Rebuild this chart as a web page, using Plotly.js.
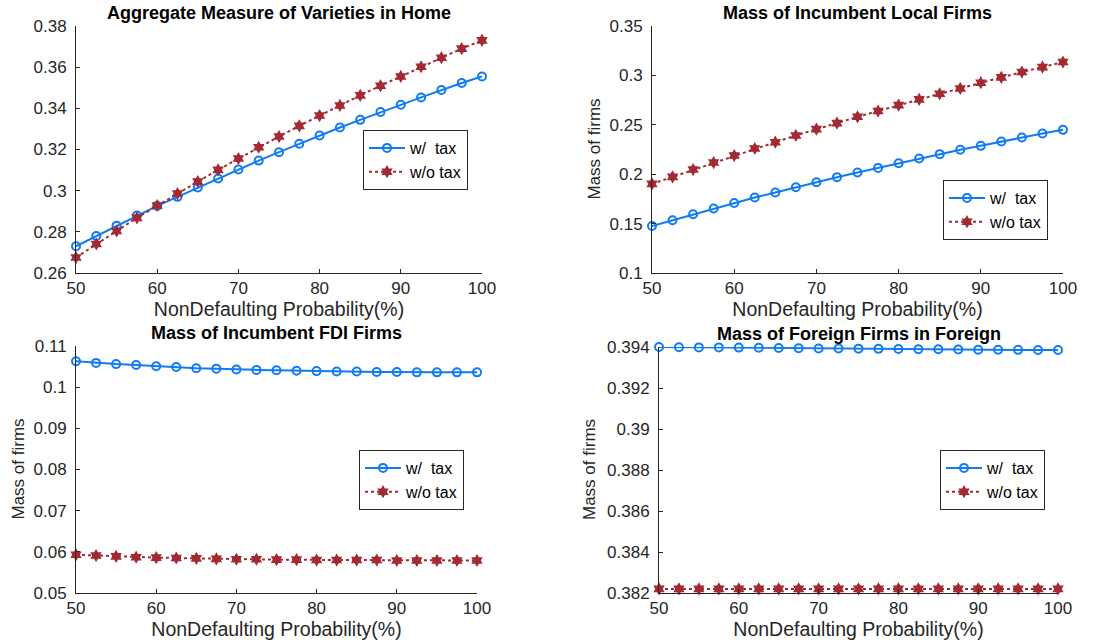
<!DOCTYPE html>
<html>
<head>
<meta charset="utf-8">
<script src="https://cdn.plot.ly/plotly-3.0.1.min.js"></script>
<style>html,body{margin:0;padding:0;background:#fff}#chart{width:1109px;height:643px}</style>
</head>
<body>
<div id="chart"></div>
<script>
// x values: NonDefaulting probability (%)
const prob = [50,52.5,55,57.5,60,62.5,65,67.5,70,72.5,75,77.5,80,82.5,85,87.5,90,92.5,95,97.5,100];

// Panel 1: Aggregate Measure of Varieties in Home
const varietiesTax   = [0.2730,0.2780,0.2830,0.2879,0.2926,0.2970,0.3015,0.3059,0.3103,0.3146,0.3187,0.3228,0.3268,0.3307,0.3344,0.3382,0.3417,0.3453,0.3489,0.3523,0.3555];
const varietiesNoTax = [0.2675,0.2741,0.2804,0.2868,0.2928,0.2986,0.3044,0.3101,0.3156,0.3211,0.3263,0.3315,0.3365,0.3414,0.3463,0.3510,0.3555,0.3602,0.3646,0.3690,0.3730];

// Panel 2: Mass of Incumbent Local Firms
const localTax   = [0.1476,0.1534,0.1595,0.1652,0.1709,0.1764,0.1814,0.1868,0.1919,0.1970,0.2017,0.2064,0.2111,0.2159,0.2203,0.2247,0.2287,0.2331,0.2372,0.2412,0.2449];
const localNoTax = [0.1902,0.1973,0.2047,0.2118,0.2189,0.2260,0.2324,0.2392,0.2456,0.2517,0.2581,0.2639,0.2699,0.2757,0.2814,0.2868,0.2926,0.2980,0.3034,0.3084,0.3135];

// Panel 3: Mass of Incumbent FDI Firms
const fdiTax   = [0.1063,0.1059,0.1056,0.1054,0.1051,0.1049,0.1046,0.1045,0.1043,0.1042,0.1041,0.1040,0.1039,0.1038,0.1038,0.1037,0.1037,0.1036,0.1036,0.1036,0.1036];
const fdiNoTax = [0.0593,0.0591,0.0589,0.0587,0.0586,0.0585,0.0584,0.0583,0.0582,0.0582,0.0581,0.0581,0.0580,0.0580,0.0580,0.0580,0.0579,0.0579,0.0579,0.0579,0.0579];

// Panel 4: Mass of Foreign Firms in Foreign
const foreignTax   = [0.39400,0.39399,0.39398,0.39398,0.39397,0.39396,0.39395,0.39394,0.39393,0.39393,0.39392,0.39391,0.39390,0.39389,0.39389,0.39388,0.39387,0.39387,0.39386,0.39385,0.39385];
const foreignNoTax = [0.38220,0.38220,0.38220,0.38220,0.38220,0.38220,0.38220,0.38220,0.38220,0.38220,0.38220,0.38220,0.38220,0.38220,0.38220,0.38220,0.38220,0.38220,0.38220,0.38220,0.38220];

const titles = ["Aggregate Measure of Varieties in Home","Mass of Incumbent Local Firms","Mass of Incumbent FDI Firms","Mass of Foreign Firms in Foreign"];
const xTitle = "NonDefaulting Probability(%)";
const yTitle = "Mass of firms";
const nameTax = "w/\u00A0 tax";
const nameNoTax = "w/o tax";

const BLUE = "#0F7BF5";
const RED = "#A32A33";
const AX = "#262626";
const FONT = "Liberation Sans, Arial, sans-serif";

const W = 1109, H = 643;
const px = (a,b) => [a/W, b/W];
const py = (top,bottom) => [1-bottom/H, 1-top/H];

const panels = [
  {tax: varietiesTax, notax: varietiesNoTax, xd: px(76,482), yd: py(26,273), yr:[0.26,0.38], dt:0.02, leg:[363,130], ytitle:null},
  {tax: localTax, notax: localNoTax, xd: px(652,1063), yd: py(26,273), yr:[0.1,0.35], dt:0.05, leg:[943,180], ytitle:594},
  {tax: fdiTax, notax: fdiNoTax, xd: px(76,477), yd: py(346,593), yr:[0.05,0.11], dt:0.01, leg:[359,450], ytitle:18},
  {tax: foreignTax, notax: foreignNoTax, xd: px(659,1058), yd: py(347,593), yr:[0.382,0.394], dt:0.002, leg:[940,450], ytitle:589}
];

const data = [];
const layout = {
  width: W, height: H,
  margin: {l:0,r:0,t:0,b:0},
  paper_bgcolor: "#fff", plot_bgcolor: "#fff",
  font: {family: FONT, color: AX, size: 17},
  annotations: [],
  showlegend: true
};

panels.forEach((p, i) => {
  const n = i + 1;
  const xa = n === 1 ? "x" : "x" + n;
  const ya = n === 1 ? "y" : "y" + n;
  const lg = n === 1 ? "legend" : "legend" + n;
  data.push({
    x: prob, y: p.tax, xaxis: xa, yaxis: ya, legend: lg, name: nameTax,
    type: "scatter", mode: "lines+markers", cliponaxis: false,
    line: {color: BLUE, width: 2},
    marker: {symbol: "circle-open", size: 8, color: BLUE, line: {width: 2, color: BLUE}}
  });
  data.push({
    x: prob, y: p.notax, xaxis: xa, yaxis: ya, legend: lg, name: nameNoTax,
    type: "scatter", mode: "lines+markers", cliponaxis: false,
    line: {color: RED, width: 2, dash: "dot"},
    marker: {symbol: "hexagram", size: 10, color: RED, line: {width: 0}}
  });
  const axCommon = {
    showline: true, linecolor: AX, linewidth: 1, mirror: false,
    showgrid: false, zeroline: false,
    ticks: "inside", ticklen: 4, tickcolor: AX, tickwidth: 1,
    tickfont: {family: FONT, size: 17, color: AX}
  };
  layout["xaxis" + (n === 1 ? "" : n)] = Object.assign({}, axCommon, {
    domain: p.xd, anchor: ya, range: [50, 100], tick0: 50, dtick: 10,
    title: {text: xTitle, font: {family: FONT, size: 19.5, color: AX}, standoff: 3}
  });
  layout["yaxis" + (n === 1 ? "" : n)] = Object.assign({}, axCommon, {
    domain: p.yd, anchor: xa, range: p.yr, tick0: p.yr[0], dtick: p.dt,
    ticklabelstandoff: 5
  });
  layout[lg] = {
    x: p.leg[0] / W, y: 1 - p.leg[1] / H, xanchor: "left", yanchor: "top",
    xref: "paper", yref: "paper",
    bgcolor: "#fff", bordercolor: AX, borderwidth: 1,
    font: {family: FONT, size: 16, color: "#000"},
    itemwidth: 36, tracegroupgap: 0
  };
  layout.annotations.push({
    xref: "paper", yref: "paper",
    x: (p.xd[0] + p.xd[1]) / 2, y: p.yd[1], yshift: 1,
    xanchor: "center", yanchor: "bottom", showarrow: false,
    text: "<b>" + titles[i] + "</b>",
    font: {family: FONT, size: 18, color: "#000"}
  });
  if (p.ytitle !== null) {
    layout.annotations.push({
      xref: "paper", yref: "paper",
      x: p.ytitle / W, y: (p.yd[0] + p.yd[1]) / 2,
      xanchor: "center", yanchor: "middle", showarrow: false,
      textangle: -90, text: yTitle,
      font: {family: FONT, size: 17, color: AX}
    });
  }
});

Plotly.newPlot("chart", data, layout, {displayModeBar: false, staticPlot: true});
</script>
</body>
</html>
